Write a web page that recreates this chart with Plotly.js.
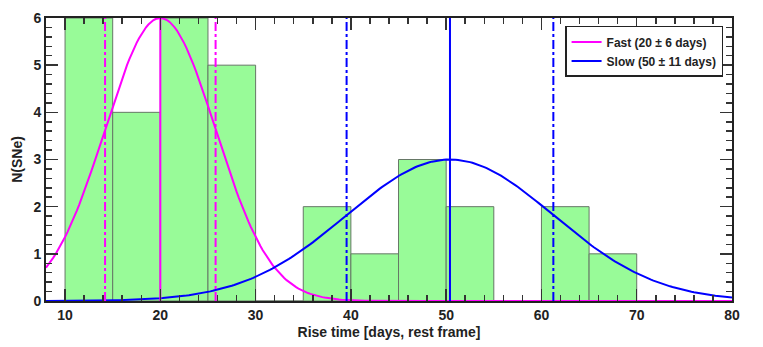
<!DOCTYPE html>
<html>
<head>
<meta charset="utf-8">
<script src="https://cdn.plot.ly/plotly-3.0.1.min.js"></script>
<style>
  html, body { margin: 0; padding: 0; background: #fff; }
  #plotArea { width: 763px; height: 347px; }
</style>
</head>
<body>
<div id="plotArea"></div>
<script>
// histogram bins (left edges, width 5 days) and counts
var binStarts = [10, 15, 20, 25, 30, 35, 40, 45, 50, 55, 60, 65];
var counts = [6, 4, 6, 5, 0, 2, 1, 3, 2, 0, 2, 1];

// gaussian fits: [amplitude, mean, sigma]
var fastFit = [6, 20, 5.8];
var slowFit = [3, 50.4, 10.85];

var fastName = "Fast (20 \u00b1 6 days)";
var slowName = "Slow (50 \u00b1 11 days)";

var xTicks = [10, 20, 30, 40, 50, 60, 70, 80];
var yTicks = [0, 1, 2, 3, 4, 5, 6];

// sample the fitted curve along the x range
function gaussCurve(fit) {
    var xs = [], ys = [];
    for (var x = 8; x <= 80.001; x += 0.25) {
        xs.push(x);
        ys.push(fit[0] * Math.exp(-Math.pow(x - fit[1], 2) / (2 * fit[2] * fit[2])));
    }
    return {x: xs, y: ys};
}

function vline(xv, color, dash) {
    return {
        x: [xv, xv], y: [0, 6],
        mode: "lines", type: "scatter",
        line: {color: color, width: 2, dash: dash},
        showlegend: false, hoverinfo: "skip"
    };
}

var fastCurve = gaussCurve(fastFit);
var slowCurve = gaussCurve(slowFit);

var bars = {
    x: binStarts,
    y: counts,
    type: "bar",
    width: 5,
    offset: 0,
    marker: {color: "#98fb98", line: {color: "#667766", width: 1}},
    showlegend: false
};

var traces = [
    bars,
    {x: fastCurve.x, y: fastCurve.y, mode: "lines", type: "scatter", name: fastName,
     line: {color: "#ff00ff", width: 2}},
    {x: slowCurve.x, y: slowCurve.y, mode: "lines", type: "scatter", name: slowName,
     line: {color: "#0000ff", width: 2}},
    vline(fastFit[1], "#ff00ff", "solid"),
    vline(fastFit[1] - fastFit[2], "#ff00ff", "dashdot"),
    vline(fastFit[1] + fastFit[2], "#ff00ff", "dashdot"),
    vline(slowFit[1], "#0000ff", "solid"),
    vline(slowFit[1] - slowFit[2], "#0000ff", "dashdot"),
    vline(slowFit[1] + slowFit[2], "#0000ff", "dashdot")
];

var fam = "Liberation Sans, Arial, sans-serif";

var layout = {
    width: 763, height: 347,
    margin: {l: 46, r: 31, t: 18, b: 46},
    paper_bgcolor: "#fff", plot_bgcolor: "#fff",
    bargap: 0,
    font: {family: fam},
    xaxis: {
        range: [8, 80], tickvals: xTicks, ticktext: xTicks.map(String),
        ticks: "inside", ticklen: 12, tickwidth: 1.5, tickcolor: "#333",
        minor: {dtick: 2, tick0: 0, ticks: "inside", ticklen: 6, tickwidth: 1.5, tickcolor: "#333"},
        showline: true, linecolor: "#222", linewidth: 2, mirror: "allticks",
        showgrid: false, zeroline: false,
        tickfont: {family: fam, size: 14, color: "#222", weight: "bold"},
        title: {text: "<b>Rise time [days, rest frame]</b>", font: {size: 14, color: "#222"}, standoff: 5}
    },
    yaxis: {
        range: [0, 6], tickvals: yTicks, ticktext: yTicks.map(String),
        ticks: "inside", ticklen: 12, tickwidth: 1.5, tickcolor: "#333",
        minor: {dtick: 0.2, tick0: 0, ticks: "inside", ticklen: 6, tickwidth: 1.5, tickcolor: "#333"},
        showline: true, linecolor: "#222", linewidth: 2, mirror: "allticks",
        showgrid: false, zeroline: false,
        tickfont: {family: fam, size: 14, color: "#222", weight: "bold"},
        title: {text: "<b>N(SNe)</b>", font: {size: 14, color: "#222"}, standoff: 8}
    },
    legend: {
        x: 0.987, y: 0.972, xanchor: "right", yanchor: "top",
        bgcolor: "#fff", bordercolor: "#222", borderwidth: 1.5,
        font: {size: 12, color: "#222", weight: "bold"},
        tracegroupgap: 0, itemwidth: 30
    },
    showlegend: true
};

Plotly.newPlot("plotArea", traces, layout, {displayModeBar: false, staticPlot: true});
</script>
</body>
</html>
